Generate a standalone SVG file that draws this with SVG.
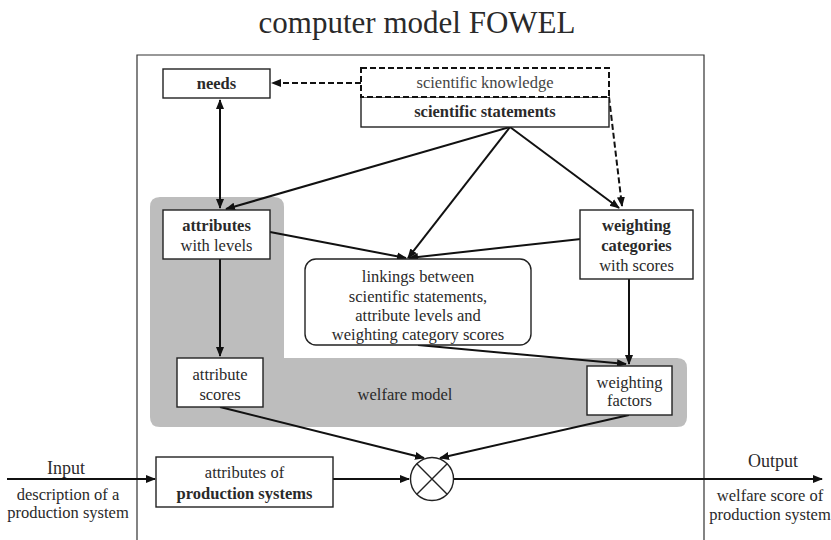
<svg xmlns="http://www.w3.org/2000/svg" width="831" height="540" viewBox="0 0 831 540">
<style>
text{font-family:"Liberation Serif","Times New Roman",serif;fill:#2a2a2a;font-size:16.5px;text-anchor:middle}
.b{font-weight:bold}
.box{fill:#fff;stroke:#222;stroke-width:1.4}
.ln{stroke:#111;stroke-width:2;fill:none}
.dash{stroke:#111;stroke-width:2;fill:none;stroke-dasharray:6 3}
</style>
<defs>
<marker id="ah" viewBox="0 0 10 10" refX="9" refY="5" markerWidth="10" markerHeight="10" markerUnits="userSpaceOnUse" orient="auto-start-reverse">
<path d="M0,1 L10,5 L0,9 Z" fill="#111"/>
</marker>
</defs>
<rect width="831" height="540" fill="#fff"/>
<text x="417" y="33" style="font-size:31px">computer model FOWEL</text>
<path d="M137,540 V55 H704 V540" fill="none" stroke="#333" stroke-width="1.2"/>
<path id="welfare-region" d="M160,197 H274 Q284,197 284,207 V358 H677 Q687,358 687,368 V417 Q687,427 677,427 H160 Q150,427 150,417 V207 Q150,197 160,197 Z" fill="#bdbdbd"/>
<text x="405" y="400">welfare model</text>
<g id="connectors">
<line class="dash" x1="361" y1="83" x2="272" y2="83" marker-end="url(#ah)"/>
<path class="dash" d="M609,97 L622,206" marker-end="url(#ah)"/>
<line class="ln" x1="220" y1="100" x2="220" y2="208" marker-start="url(#ah)" marker-end="url(#ah)"/>
<line class="ln" x1="510" y1="127" x2="226" y2="209" marker-end="url(#ah)"/>
<line class="ln" x1="510" y1="127" x2="408" y2="258" marker-end="url(#ah)"/>
<line class="ln" x1="510" y1="127" x2="619" y2="208" marker-end="url(#ah)"/>
<line class="ln" x1="270" y1="232" x2="406" y2="258" marker-end="url(#ah)"/>
<line class="ln" x1="581" y1="239" x2="409" y2="258" marker-end="url(#ah)"/>
<line class="ln" x1="220" y1="259" x2="220" y2="356" marker-end="url(#ah)"/>
<line class="ln" x1="629" y1="279" x2="629" y2="364" marker-end="url(#ah)"/>
<line class="ln" x1="418" y1="345" x2="626" y2="364" marker-end="url(#ah)"/>
<line class="ln" x1="220" y1="407" x2="424" y2="458" marker-end="url(#ah)"/>
<line class="ln" x1="629" y1="415" x2="440" y2="458" marker-end="url(#ah)"/>
<line class="ln" x1="7" y1="479" x2="155" y2="479" marker-end="url(#ah)"/>
<line class="ln" x1="333" y1="479" x2="409" y2="479" marker-end="url(#ah)"/>
<line class="ln" x1="453" y1="479" x2="822" y2="479" marker-end="url(#ah)"/>
</g>
<g id="needs">
<rect class="box" x="163" y="69" width="107" height="29"/>
<text class="b" x="216.5" y="89">needs</text>
</g>
<g id="scientific-statements">
<rect class="box" x="361" y="97" width="248" height="30"/>
<text class="b" x="485" y="117">scientific statements</text>
</g>
<g id="scientific-knowledge">
<rect x="361" y="68" width="248" height="29" fill="#fff" stroke="#111" stroke-width="2" stroke-dasharray="6 3"/>
<text x="485" y="88" style="fill:#444">scientific knowledge</text>
</g>
<g id="attributes">
<rect class="box" x="163" y="210" width="107" height="49"/>
<text class="b" x="216.5" y="231">attributes</text>
<text x="216.5" y="251">with levels</text>
</g>
<g id="linkings">
<rect class="box" x="305" y="259" width="226" height="86" rx="11"/>
<text x="418" y="282">linkings between</text>
<text x="418" y="302">scientific statements,</text>
<text x="418" y="321">attribute levels and</text>
<text x="418" y="340">weighting category scores</text>
</g>
<g id="weighting-categories">
<rect class="box" x="580" y="210" width="113" height="69"/>
<text class="b" x="636.5" y="231">weighting</text>
<text class="b" x="636.5" y="251">categories</text>
<text x="636.5" y="271">with scores</text>
</g>
<g id="attribute-scores">
<rect class="box" x="177" y="358" width="86" height="49"/>
<text x="220" y="380">attribute</text>
<text x="220" y="400">scores</text>
</g>
<g id="weighting-factors">
<rect class="box" x="587" y="366" width="85" height="49"/>
<text x="629.5" y="388">weighting</text>
<text x="629.5" y="406">factors</text>
</g>
<g id="production-systems">
<rect class="box" x="156" y="457" width="177" height="50"/>
<text x="244.5" y="478">attributes of</text>
<text class="b" x="244.5" y="499">production systems</text>
</g>
<g id="multiplier">
<circle cx="432" cy="479" r="21.5" fill="#fff" stroke="#222" stroke-width="1.4"/>
<path d="M416.8,463.8 L447.2,494.2 M447.2,463.8 L416.8,494.2" stroke="#222" stroke-width="1.4"/>
</g>
<g id="input">
<text x="66" y="474" style="font-size:18px">Input</text>
<text x="68" y="500">description of a</text>
<text x="68" y="518">production system</text>
</g>
<g id="output">
<text x="773" y="467" style="font-size:18px">Output</text>
<text x="770" y="501">welfare score of</text>
<text x="770" y="520">production system</text>
</g>
</svg>
